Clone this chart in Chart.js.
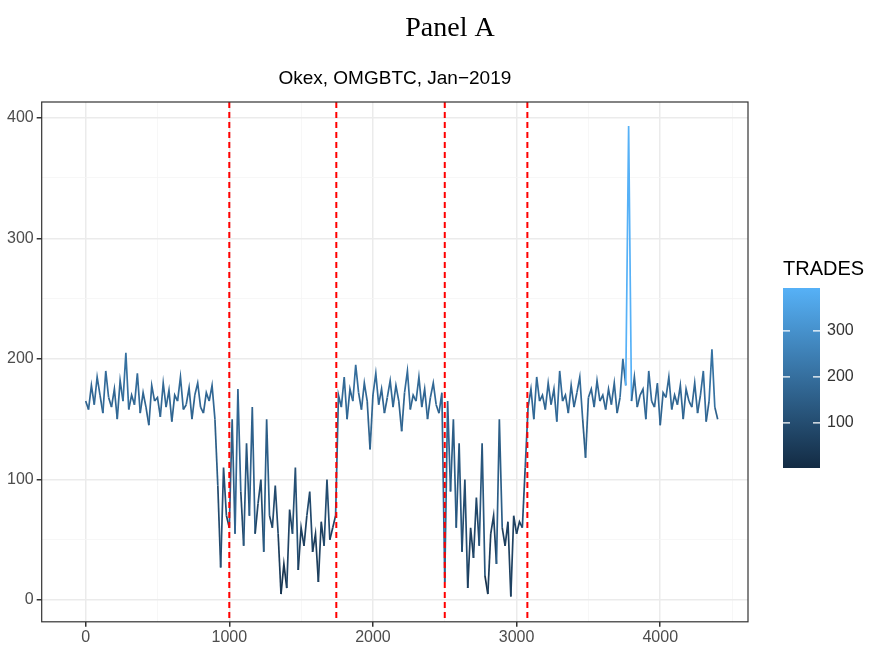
<!DOCTYPE html>
<html><head><meta charset="utf-8">
<script src="https://cdn.jsdelivr.net/npm/chart.js@4"></script>
<style>body{margin:0;background:#fff}#w{width:881px;height:648px;position:relative}</style>
</head><body><div id="w"><canvas id="c"></canvas></div>
<script>
const xStart=0, xStep=20;
const trades=[165,158,178,162,185,170,155,190,168,160,175,150,182,165,205,158,170,162,188,155,172,160,145,178,165,168,152,180,160,174,148,170,165,185,158,162,176,150,170,180,160,155,172,165,178,
150,95,27,110,70,
60,150,55,175,90,45,130,70,160,55,80,100,40,150,70,60,95,55,5,30,10,75,55,110,25,60,45,70,90,40,55,15,65,45,100,50,60,70,
170,160,185,150,175,165,195,172,158,180,165,125,170,188,162,175,155,168,182,160,178,165,140,172,190,158,170,165,185,160,175,150,168,180,162,155,172,
15,165,90,150,60,130,40,100,10,60,35,85,45,130,20,5,55,70,30,150,60,45,65,3,70,55,65,60,110,
160,175,150,185,165,170,158,180,162,175,148,190,165,170,155,178,160,172,185,150,118,168,175,160,182,165,170,158,175,162,180,155,168,200,178,393,165,185,160,170,
175,150,190,165,160,180,145,172,168,185,158,170,162,178,150,175,165,160,180,155,170,190,148,165,208,160,150];
const vlines=[1000,1745,2500,3075];
const legendTicks=[100,200,300];
const cMin=2,cMax=393;
const lo=[19,43,67],hi=[86,177,247];
function col(v){let t=Math.max(0,Math.min(1,(v-cMin)/(cMax-cMin)));return `rgb(${lo.map((a,i)=>Math.round(a+(hi[i]-a)*t)).join(',')})`;}
const pts=trades.map((v,i)=>({x:xStart+i*xStep,y:v}));
const deco={id:'deco',afterDatasetsDraw(ch){
 const c=ch.ctx,x=ch.scales.x,y=ch.scales.y,a=ch.chartArea;
 c.save();c.strokeStyle='#ff0000';c.lineWidth=2;c.setLineDash([6,4]);
 vlines.forEach(v=>{const p=x.getPixelForValue(v);c.beginPath();c.moveTo(p,a.top);c.lineTo(p,a.bottom);c.stroke();});
 c.setLineDash([]);c.strokeStyle='#333';c.lineWidth=1.2;c.strokeRect(a.left,a.top,a.right-a.left,a.bottom-a.top);
 c.fillStyle='#000';c.textAlign='center';c.font='28px "Liberation Serif"';c.fillText('Panel A',450,36);
 c.font='19px "Liberation Sans"';c.fillText('Okex, OMGBTC, Jan\u22122019',(a.left+a.right)/2,84);
 c.textAlign='left';c.font='20px "Liberation Sans"';c.fillText('TRADES',783,275);
 const bt=288,bb=468,bl=783,bw=37;const g=c.createLinearGradient(0,bb,0,bt);
 g.addColorStop(0,col(cMin));g.addColorStop(0.5,col((cMin+cMax)/2));g.addColorStop(1,col(cMax));c.fillStyle=g;c.fillRect(bl,bt,bw,bb-bt);
 c.font='16px "Liberation Sans"';c.fillStyle='#333';c.textBaseline='middle';
 legendTicks.forEach(v=>{const py=bb-(v-cMin)/(cMax-cMin)*(bb-bt);c.strokeStyle='#fff';c.beginPath();c.moveTo(bl,py);c.lineTo(bl+7,py);c.moveTo(bl+bw-7,py);c.lineTo(bl+bw,py);c.stroke();c.fillStyle='#333';c.fillText(String(v),bl+bw+7,py);});
 c.restore();}};
new Chart(document.getElementById('c'),{type:'line',
 data:{datasets:[{data:pts,borderWidth:1.7,pointRadius:0,tension:0,borderColor:col(165),
  segment:{borderColor:s=>col(Math.max(s.p0.parsed.y,s.p1.parsed.y))}}]},
 options:{responsive:true,maintainAspectRatio:false,animation:false,
  layout:{padding:{top:102,right:133,bottom:0,left:4}},
  plugins:{legend:{display:false},tooltip:{enabled:false}},
  scales:{
   x:{type:'linear',min:-306,max:4611,border:{display:false},
    afterBuildTicks:ax=>{ax.ticks=[0,500,1000,1500,2000,2500,3000,3500,4000,4500].map(v=>({value:v}));},
    ticks:{autoSkip:false,maxRotation:0,padding:1,color:'#4d4d4d',font:{size:16,family:'Liberation Sans'},callback:v=>v%1000===0?v:''},
    grid:{color:c=>c.tick&&c.tick.value%1000===0?'#ebebeb':'#f5f5f5',lineWidth:c=>c.tick&&c.tick.value%1000===0?1.5:0.8,tickColor:c=>c.tick&&c.tick.value%1000===0?'#333':'rgba(0,0,0,0)',tickLength:5}},
   y:{type:'linear',min:-18,max:413,border:{display:false},
    afterBuildTicks:ax=>{ax.ticks=[0,50,100,150,200,250,300,350,400].map(v=>({value:v}));},
    ticks:{autoSkip:false,color:'#4d4d4d',font:{size:16,family:'Liberation Sans'},callback:v=>v%100===0?v:''},
    grid:{color:c=>c.tick&&c.tick.value%100===0?'#ebebeb':'#f5f5f5',lineWidth:c=>c.tick&&c.tick.value%100===0?1.5:0.8,tickColor:c=>c.tick&&c.tick.value%100===0?'#333':'rgba(0,0,0,0)',tickLength:5}}}},
 plugins:[deco]});
</script></body></html>
